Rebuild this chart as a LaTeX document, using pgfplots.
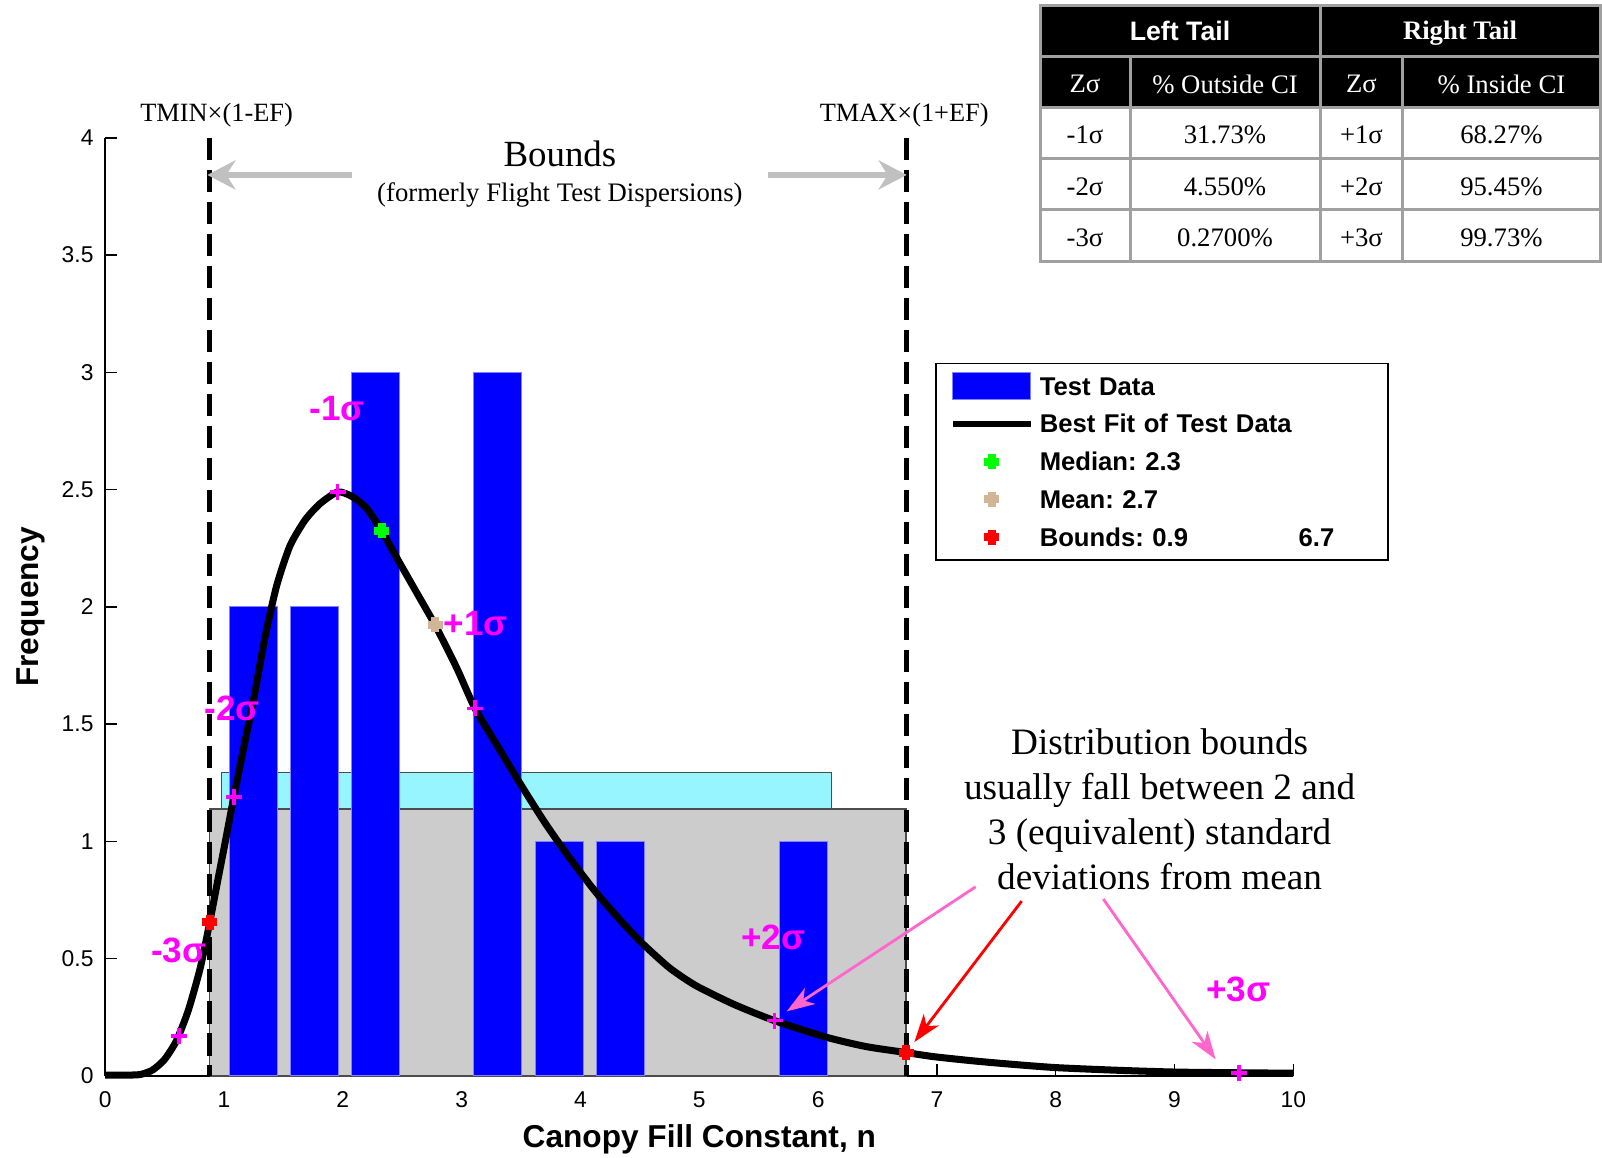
\documentclass[border=0pt]{standalone}
\usepackage{fontspec}
\setmainfont{Liberation Sans}
\newfontfamily\tnr{Liberation Serif}
\usepackage{pgfplots}
\pgfplotsset{compat=1.18}
\usetikzlibrary{arrows.meta}

\definecolor{barblue}{RGB}{0,0,255}
\definecolor{baredge}{RGB}{130,130,255}
\definecolor{mag}{RGB}{255,0,255}
\definecolor{cyanbox}{RGB}{150,245,255}
\definecolor{graybox}{RGB}{204,204,204}
\definecolor{arrowgray}{RGB}{192,192,192}
\definecolor{pinkarrow}{RGB}{255,102,204}
\definecolor{tanmark}{RGB}{210,180,150}
\definecolor{greenmark}{RGB}{0,255,0}
\definecolor{redmark}{RGB}{255,0,0}
\definecolor{tablegray}{RGB}{160,160,160}

\begin{document}
\begin{tikzpicture}
\begin{axis}[
  scale only axis, width=118.82mm, height=93.79mm,
  xmin=0, xmax=10, ymin=0, ymax=4,
  axis x line*=bottom, axis y line*=left,
  axis line style={black, line width=0.4pt},
  tick align=inside,
  xtick={0,1,...,10}, ytick={0,0.5,...,4},
  major tick length=1.2mm,
  tick style={black, line width=0.4pt},
  /pgf/number format/assume math mode=true,
  tick label style={font=\fontsize{6.5}{7}\selectfont, inner sep=0pt},
  xticklabel style={anchor=center, yshift=-2.35mm},
  yticklabel style={anchor=east, xshift=-1.1mm},
  xlabel={\textbf{Canopy Fill Constant, n}},
  ylabel={\textbf{Frequency}},
  label style={font=\fontsize{9}{11}\selectfont},
  xlabel style={at={(axis description cs:0.5,-0.068)}, anchor=center},
  ylabel style={at={(axis description cs:-0.0628,0.5)}, anchor=center},
  clip=false,
  legend cell align=left,
  legend style={at={(0.6987,0.7604)}, anchor=north west, draw=black, line width=0.5pt, fill=white,
     inner xsep=1.35mm, inner ysep=0.36mm, row sep=0pt, column sep=0.6mm,
     font=\fontsize{7.3}{8}\selectfont\bfseries\frenchspacing,
     nodes={inner sep=0pt, text height=2.81mm, text depth=0.97mm, text width=33.45mm}},
]
% background boxes
\addplot[fill=graybox, draw=black!70, line width=0.4pt, forget plot]
  coordinates {(0.88,0) (0.88,1.138) (6.74,1.138) (6.74,0) (0.88,0)};
\addplot[fill=cyanbox, draw=black!70, line width=0.4pt, forget plot]
  coordinates {(0.98,1.138) (0.98,1.2945) (6.114,1.2945) (6.114,1.138) (0.98,1.138)};
% histogram
\addplot[ybar, bar width=0.405, bar shift=0pt, fill=barblue, draw=baredge, line width=0.3pt,
  legend image code/.code={\fill[barblue, draw=baredge] (0mm,-1.33mm) rectangle (7.8mm,1.33mm);}]
  coordinates {(1.245,2) (1.76,2) (2.275,3) (3.305,3) (3.82,1) (4.335,1) (5.88,1)};
\addlegendentry{Test Data}
% sigma labels
\addplot[draw=none, mark=none, forget plot, nodes near coords, point meta=explicit symbolic,
  nodes near coords style={anchor=center, inner sep=0pt, text=mag, font=\fontsize{10}{12}\selectfont\bfseries}]
  coordinates {(1.953,2.845)[-1σ] (3.12,1.930)[+1σ] (1.07,1.569)[-2σ] (0.619,0.536)[-3σ] (5.624,0.592)[+2σ] (9.536,0.370)[+3σ]};
% bounds lines
\addplot[black, line width=1.45pt, dash pattern=on 6.3pt off 2.8pt, forget plot] coordinates {(0.88,4) (0.88,0)};
\addplot[black, line width=1.45pt, dash pattern=on 6.3pt off 2.8pt, forget plot] coordinates {(6.74,4) (6.74,0)};
% best fit
\addplot[black, line width=2pt, smooth, tension=0.4,
  legend image code/.code={\draw[black, line width=0.6mm] (0mm,0mm) -- (7.8mm,0mm);}]
  coordinates {(0,0.003) (0.1,0.003) (0.2,0.003) (0.3,0.006) (0.4,0.025) (0.5,0.07) (0.6,0.15) (0.7,0.28) (0.8,0.46) (0.88,0.655) (0.95,0.84) (1.0,0.97) (1.083,1.19) (1.162,1.39) (1.247,1.60) (1.345,1.87) (1.443,2.09) (1.555,2.26) (1.682,2.37) (1.808,2.44) (1.957,2.49) (2.08,2.47) (2.201,2.42) (2.327,2.324) (2.453,2.21) (2.622,2.06) (2.776,1.923) (2.958,1.74) (3.112,1.567) (3.309,1.40) (3.5,1.24) (3.7,1.08) (3.9,0.935) (4.134,0.78) (4.35,0.655) (4.52,0.565) (4.75,0.46) (4.97,0.385) (5.29,0.305) (5.634,0.235) (6.066,0.165) (6.4,0.125) (6.742,0.099) (6.967,0.082) (7.3,0.064) (7.61,0.05) (8.0,0.035) (8.5,0.024) (9.0,0.016) (9.54,0.013) (10,0.011)};
\addlegendentry{Best Fit of Test Data}
% sigma points
\addplot[only marks, mark=+, mag, mark size=0.8mm, line width=0.35mm, forget plot]
  coordinates {(0.62,0.17) (1.083,1.19) (1.957,2.49) (3.112,1.567) (5.634,0.235) (9.54,0.013)};
% median, mean, bounds
\addplot[only marks, mark=+, greenmark, mark size=0.75mm, line width=0.8mm,
  legend image code/.code={\path[draw=none] (0mm,0mm) -- (7.8mm,0mm); \draw[draw=none] plot coordinates {(3.9mm,0mm)};}]
  coordinates {(2.327,2.324)};
\addlegendentry{Median: 2.3}
\addplot[only marks, mark=+, tanmark, mark size=0.75mm, line width=0.8mm,
  legend image code/.code={\path[draw=none] (0mm,0mm) -- (7.8mm,0mm); \draw[draw=none] plot coordinates {(3.9mm,0mm)};}]
  coordinates {(2.776,1.923)};
\addlegendentry{Mean: 2.7}
\addplot[only marks, mark=+, redmark, mark size=0.75mm, line width=0.8mm,
  legend image code/.code={\path[draw=none] (0mm,0mm) -- (7.8mm,0mm); \draw[draw=none] plot coordinates {(3.9mm,0mm)};}]
  coordinates {(0.88,0.655) (6.742,0.099)};
\addlegendentry{Bounds: 0.9\hspace{11.06mm}6.7}
% arrows
\draw[arrowgray, line width=0.57mm, -{Stealth[length=2.8mm,width=2.9mm,inset=0.9mm]}] (axis cs:2.077,3.842) -- (axis cs:0.86,3.842);
\draw[arrowgray, line width=0.57mm, -{Stealth[length=2.8mm,width=2.9mm,inset=0.9mm]}] (axis cs:5.581,3.842) -- (axis cs:6.745,3.842);
\draw[pinkarrow, line width=0.8pt, -{Stealth[length=2.8mm,width=1.9mm,inset=0.8mm]}] (axis cs:7.326,0.806) -- (axis cs:5.735,0.2745);
\draw[pinkarrow, line width=0.8pt, -{Stealth[length=2.8mm,width=1.9mm,inset=0.8mm]}] (axis cs:8.40,0.754) -- (axis cs:9.346,0.070);
\draw[redmark, line width=0.8pt, -{Stealth[length=2.8mm,width=1.9mm,inset=0.8mm]}] (axis cs:7.713,0.745) -- (axis cs:6.81,0.144);
\end{axis}

\begin{scope}[x=0.1mm,y=-0.1mm,shift={(-10.52mm,107.58mm)}]
% texts
\node[font=\tnr\fontsize{7.5}{9}\selectfont] at (216.6,115.4) {TMIN×(1-EF)};
\node[font=\tnr\fontsize{7.5}{9}\selectfont] at (904.2,115.4) {TMAX×(1+EF)};
\node[font=\tnr\fontsize{10.5}{12}\selectfont] at (559.9,154.3) {Bounds};
\node[font=\tnr\fontsize{7.6}{9}\selectfont] at (559.9,195.1) {(formerly Flight Test Dispersions)};
\node[font=\tnr\fontsize{10.6}{12.8}\selectfont, align=center] at (1159.6,809.2)
  {Distribution bounds\\usually fall between 2 and\\3 (equivalent) standard\\deviations from mean};
% table
\fill[black] (1040.1,5.1) rectangle (1600,107.3);
\draw[tablegray, line width=0.3mm] (1040.1,5.1) rectangle (1600,261.5);
\foreach \yy in {56.2,107.3,158.4,209.4} \draw[tablegray, line width=0.3mm] (1040.1,\yy) -- (1600,\yy);
\draw[tablegray, line width=0.3mm] (1320,5.1) -- (1320,261.5);
\draw[tablegray, line width=0.3mm] (1130,56.2) -- (1130,261.5);
\draw[tablegray, line width=0.3mm] (1402.8,56.2) -- (1402.8,261.5);
\node[text=white, font=\fontsize{7.6}{9}\selectfont\bfseries] at (1180,30.65) {Left Tail};
\node[text=white, font=\tnr\fontsize{7.6}{9}\selectfont\bfseries] at (1460,33.6) {Right Tail};
\begin{scope}[every node/.style={font=\tnr\fontsize{7.6}{9}\selectfont}]
\node[text=white] at (1085,84.2) {Zσ};
\node[text=white] at (1225,84.2) {\% Outside CI};
\node[text=white] at (1361.4,84.2) {Zσ};
\node[text=white] at (1501.4,84.2) {\% Inside CI};
\node at (1085,135.3) {-1σ};
\node at (1225,135.3) {31.73\%};
\node at (1361.4,135.3) {+1σ};
\node at (1501.4,135.3) {68.27\%};
\node at (1085,186.4) {-2σ};
\node at (1225,186.4) {4.550\%};
\node at (1361.4,186.4) {+2σ};
\node at (1501.4,186.4) {95.45\%};
\node at (1085,237.9) {-3σ};
\node at (1225,237.9) {0.2700\%};
\node at (1361.4,237.9) {+3σ};
\node at (1501.4,237.9) {99.73\%};
\end{scope}
\end{scope}
\pgfresetboundingbox
\path (-10.52mm,-8.12mm) rectangle (149.68mm,107.58mm);
\end{tikzpicture}
\end{document}
